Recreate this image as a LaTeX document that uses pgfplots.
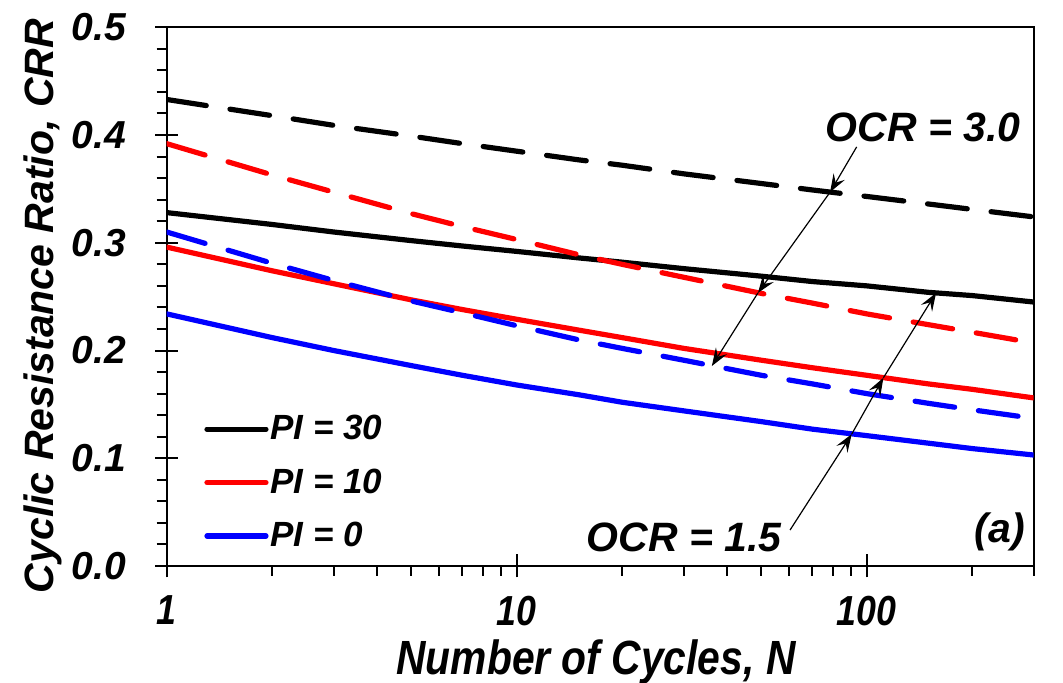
\documentclass[border=0pt]{standalone}
\usepackage{pgfplots}
\pgfplotsset{compat=1.18}
\usepackage{pgfplotstable}
\usetikzlibrary{arrows.meta}
\usepackage{fontspec}
\setmainfont{Liberation Sans}
\newfontfamily\narrowfont{Liberation Sans}[FakeStretch=0.85]

\pgfplotstableread{
N    BS    RS    LS    BD    RD    LD
1    0.328 0.296 0.234 0.433 0.392 0.310
2    0.317 0.274 0.212 0.418 0.363 0.281
3    0.310 0.262 0.200 0.409 0.347 0.265
5    0.302 0.247 0.186 0.399 0.327 0.246
7    0.297 0.238 0.177 0.392 0.315 0.235
10   0.292 0.229 0.168 0.385 0.303 0.223
15   0.286 0.219 0.159 0.377 0.289 0.210
20   0.282 0.212 0.152 0.372 0.280 0.202
30   0.276 0.202 0.144 0.364 0.268 0.191
50   0.269 0.191 0.134 0.355 0.253 0.177
70   0.264 0.184 0.127 0.349 0.244 0.169
100  0.260 0.177 0.121 0.343 0.234 0.160
150  0.254 0.169 0.114 0.336 0.224 0.151
200  0.251 0.164 0.109 0.331 0.217 0.145
300  0.245 0.156 0.103 0.324 0.207 0.137
}\crr

\definecolor{myred}{RGB}{255,0,0}
\definecolor{myblue}{RGB}{0,0,255}

\begin{document}
\begin{tikzpicture}
\path[use as bounding box] (0,0) rectangle (531.5pt,341.5pt);
\begin{axis}[
  at={(83.35pt,58.5pt)}, anchor=south west,
  scale only axis, width=433.5pt, height=269.35pt,
  xmode=log, xmin=1, xmax=300, ymin=0, ymax=0.5,
  clip mode=individual,
  axis line style={line width=1.1pt},
  xtick={1,10,100}, xticklabels={1,10,100},
  minor xtick={2,3,4,5,6,7,8,9,20,30,40,50,60,70,80,90,200,300},
  ytick={0,0.1,0.2,0.3,0.4,0.5},
  yticklabels={0.0,0.1,0.2,0.3,0.4,0.5},
  minor ytick={0.02,0.04,0.06,0.08,0.12,0.14,0.16,0.18,0.22,0.24,0.26,0.28,0.32,0.34,0.36,0.38,0.42,0.44,0.46,0.48},
  xtick pos=bottom, ytick pos=left,
  tick align=center,
  major tick length=11.5pt, minor tick length=5pt,
  tick style={black, line width=1pt},
  minor x tick style={yshift=-2.5pt},
  minor y tick style={xshift=-2.5pt},
  yticklabel style={font=\fontsize{19.5}{22}\selectfont\bfseries\itshape, xshift=-11pt},
  xticklabel style={font=\fontsize{21}{24}\selectfont\narrowfont\bfseries\itshape, yshift=-8pt, inner sep=1pt},
  legend style={draw=none, fill=none, at={(rel axis cs:0.043,0.284)}, anchor=north west,
    inner sep=0pt, row sep=11pt, font=\fontsize{17.5}{20}\selectfont\bfseries\itshape,
    nodes={inner sep=1pt},
    /tikz/every even column/.append style={column sep=2pt}},
  legend cell align=left,
  legend image code/.code={\draw[#1] (0pt,0pt) -- (29.5pt,0pt);},
  every axis plot/.append style={line width=2.6pt},
]
\addplot[black, line cap=round] table[x=N,y=BS] {\crr};
\addlegendentry{PI = 30}
\addplot[myred, line cap=round] table[x=N,y=RS] {\crr};
\addlegendentry{PI = 10}
\addplot[myblue, line cap=round] table[x=N,y=LS] {\crr};
\addlegendentry{PI = 0}
\addplot[black, line cap=round, dash pattern=on 20pt off 12pt, forget plot] table[x=N,y=BD] {\crr};
\addplot[myred, line cap=round, dash pattern=on 20pt off 12pt, forget plot] table[x=N,y=RD] {\crr};
\addplot[myblue, line cap=round, dash pattern=on 20pt off 12pt, forget plot] table[x=N,y=LD] {\crr};

% OCR = 3.0 arrows
\draw[line width=0.6pt, -{Stealth[length=9pt,width=6.5pt,inset=3.5pt]}] (axis cs:93.6,0.389) -- (axis cs:78.6,0.347);
\draw[line width=0.6pt, -{Stealth[length=9pt,width=6.5pt,inset=3.5pt]}] (axis cs:78.6,0.347) -- (axis cs:48.9,0.2535);
\draw[line width=0.6pt, -{Stealth[length=9pt,width=6.5pt,inset=3.5pt]}] (axis cs:48.9,0.2535) -- (axis cs:36.1,0.1856);
% OCR = 1.5 arrows
\draw[line width=0.6pt, -{Stealth[length=9pt,width=6.5pt,inset=3.5pt]}] (axis cs:60.4,0.0334) -- (axis cs:90.6,0.1224);
\draw[line width=0.6pt, -{Stealth[length=9pt,width=6.5pt,inset=3.5pt]}] (axis cs:90.6,0.1224) -- (axis cs:111.6,0.1747);
\draw[line width=0.6pt, -{Stealth[length=9pt,width=6.5pt,inset=3.5pt]}] (axis cs:111.6,0.1747) -- (axis cs:157.8,0.2534);
\end{axis}

\node[font=\fontsize{20.5}{24}\selectfont\bfseries\itshape, anchor=center] at (461.5pt,277.75pt) {OCR = 3.0};
\node[font=\fontsize{20.5}{24}\selectfont\bfseries\itshape, anchor=center] at (342pt,72.75pt) {OCR = 1.5};
\node[font=\fontsize{20.5}{24}\selectfont\bfseries\itshape, anchor=center] at (500pt,75.5pt) {(a)};
\node[font=\fontsize{20.5}{24}\selectfont\bfseries\itshape, rotate=90, anchor=base] at (26.5pt,188.5pt) {Cyclic Resistance Ratio, CRR};
\node[font=\fontsize{24}{28}\selectfont\narrowfont\bfseries\itshape, anchor=base, inner sep=1pt] at (298pt,4pt) {Number of Cycles, N};
\end{tikzpicture}
\end{document}
